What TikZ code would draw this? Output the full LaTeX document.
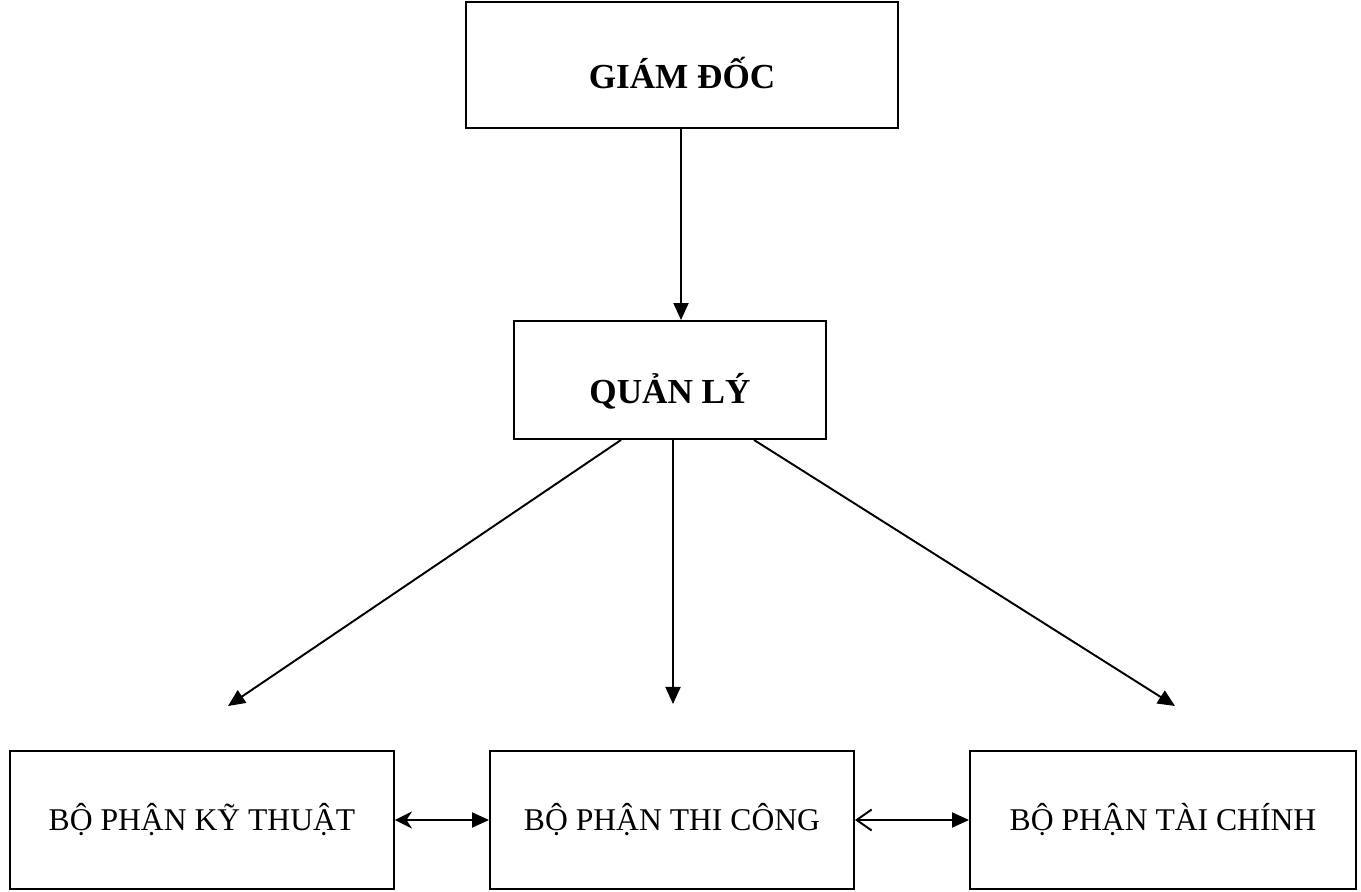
\documentclass[tikz,border=0pt]{standalone}
\usepackage{fontspec}
\setmainfont{Liberation Serif}
\usetikzlibrary{arrows.meta}
\tikzset{
  hop/.style={draw, line width=1.1pt, minimum width=#1, minimum height=2.5cm, align=center, font=\fontsize{18}{22}\selectfont},
  dau/.style={font=\fontsize{20}{24}\selectfont\bfseries, text height=1.0cm, text depth=0.05cm},
  sep/.style={line width=1.1pt, -{Triangle[length=3.4mm,width=3mm]}},
  hai/.style={line width=1.1pt, {Stealth[length=3.4mm,width=3.4mm]}-{Triangle[length=3.4mm,width=3mm]}},
  hai2/.style={line width=1.1pt, {Straight Barb[length=3mm,width=4.2mm]}-{Triangle[length=3.4mm,width=3mm]}}
}
\begin{document}
\begin{tikzpicture}
				\useasboundingbox (0,0) rectangle (27.22,17.84);
				
				\node[hop=8.64cm, minimum height=2.52cm, dau] (gd) at (13.64,16.54) {GIÁM ĐỐC};
				\node[hop=6.24cm, minimum height=2.36cm, dau] (ql) at (13.40,10.24) {QUẢN LÝ};
				
				\node[hop=7.68cm, minimum height=2.76cm] (kt) at (4.04,1.44) {BỘ PHẬN KỸ THUẬT};
				\node[hop=7.28cm, minimum height=2.76cm] (tc) at (13.44,1.44) {BỘ PHẬN THI CÔNG};
				\node[hop=7.72cm, minimum height=2.76cm] (tch) at (23.26,1.44) {BỘ PHẬN TÀI CHÍNH};
				
				\coordinate (ktend) at (4.56,3.72);
				\coordinate (tcend) at (13.46,3.76);
				\coordinate (tchend) at (23.5,3.72);
				
				\draw[sep] (gd.south -| 13.62,0) -- (ql.north -| 13.62,0);
				\draw[sep] (ql.south -| 12.42,0) -- (ktend);
				\draw[sep] (ql.south -| 13.46,0) -- (tcend);
				\draw[sep] (ql.south -| 15.08,0) -- (tchend);
				
				\draw[hai] (kt.east) -- (tc.west);
				\draw[hai2] (tc.east) -- (tch.west);
\end{tikzpicture}
\end{document}
